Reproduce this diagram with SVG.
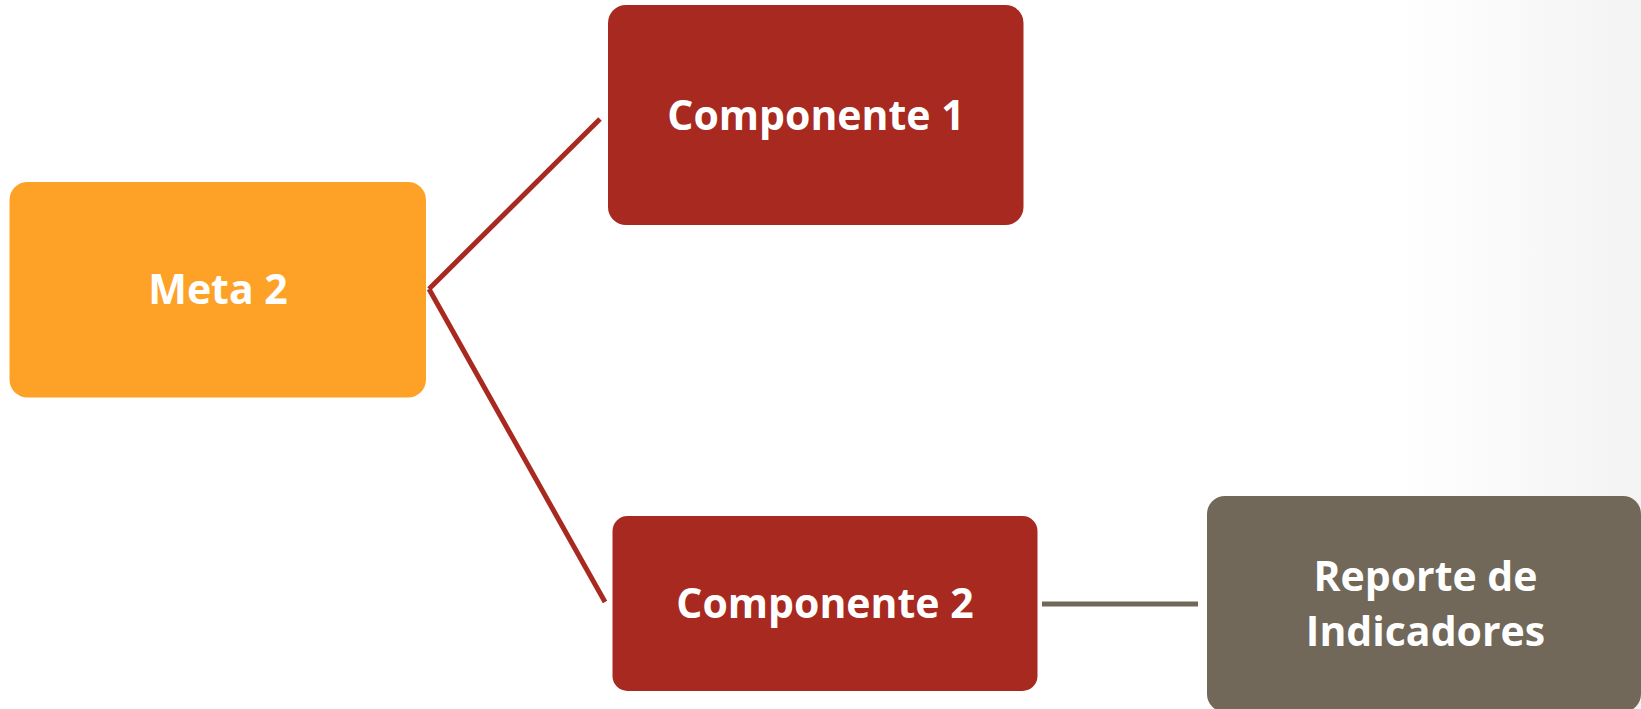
<svg xmlns="http://www.w3.org/2000/svg" width="1641" height="709" viewBox="0 0 1641 709">
<defs>
<style>
.lbl{font-family:"Open Sans","Liberation Sans",sans-serif;font-weight:bold;font-size:41px;fill:#ffffff;text-anchor:middle;}
.conn{fill:none;stroke-width:5;}
</style>
<linearGradient id="bg" x1="0" y1="0" x2="1" y2="0">
<stop offset="0.85" stop-color="#ffffff"/>
<stop offset="1" stop-color="#f3f3f3"/>
</linearGradient>
</defs>
<rect x="0" y="0" width="1641" height="709" fill="url(#bg)"/>
<g id="connectors">
<line class="conn" x1="429" y1="289" x2="600" y2="119" stroke="#A8291F"/>
<line class="conn" x1="429" y1="289" x2="605" y2="602" stroke="#A8291F"/>
<line class="conn" x1="1042" y1="604" x2="1198" y2="604" stroke="#71685A"/>
</g>
<g id="meta2">
<rect x="9.5" y="182" width="416.5" height="215.5" rx="18" fill="#FDA227"/>
<text class="lbl" x="218" y="303.5">Meta 2</text>
</g>
<g id="componente1">
<rect x="608" y="5" width="415.5" height="220" rx="18" fill="#A8291F"/>
<text class="lbl" x="816" y="130">Componente 1</text>
</g>
<g id="componente2">
<rect x="612.5" y="516" width="425" height="175" rx="15" fill="#A8291F"/>
<text class="lbl" x="825" y="617.5">Componente 2</text>
</g>
<g id="reporte">
<rect x="1207" y="496" width="434" height="216" rx="18" fill="#71685A"/>
<text class="lbl" x="1425.5" y="591">Reporte de</text>
<text class="lbl" x="1425.5" y="646">Indicadores</text>
</g>
</svg>
